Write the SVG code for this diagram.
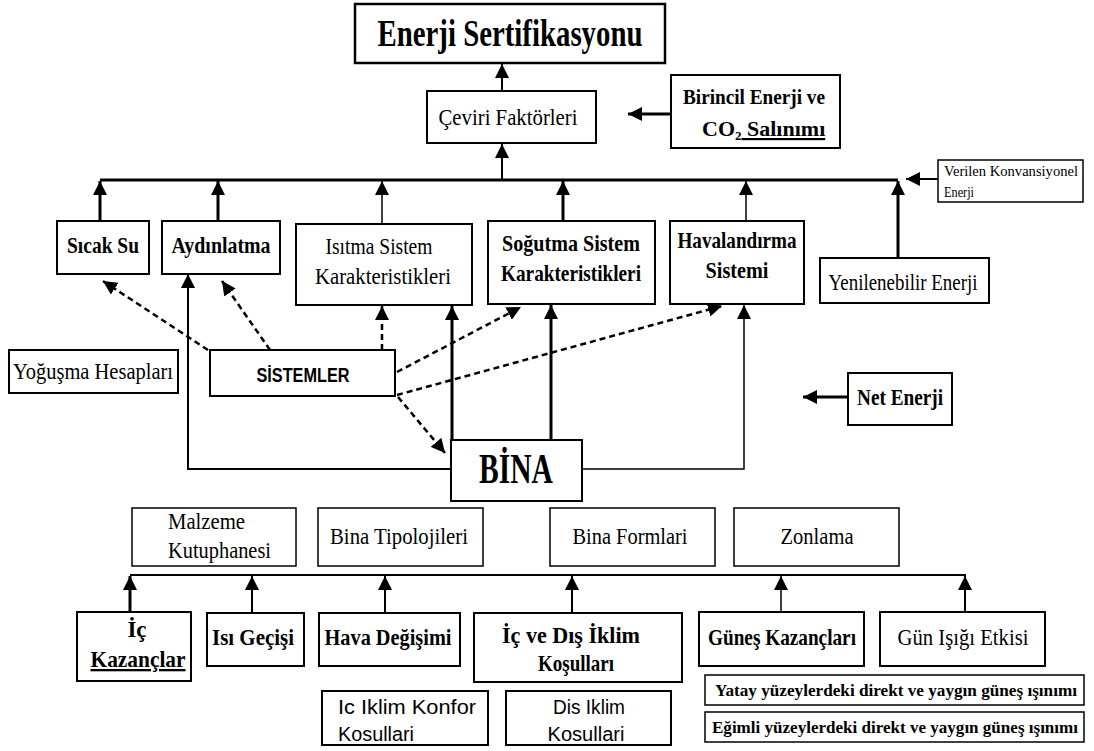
<svg xmlns="http://www.w3.org/2000/svg" width="1094" height="751" viewBox="0 0 1094 751">
<defs>
<marker id="ah" markerUnits="userSpaceOnUse" markerWidth="14" markerHeight="14" viewBox="0 0 12 12" refX="12" refY="6" orient="auto">
<path d="M0,0 L12,6 L0,12 z" fill="#000"/>
</marker>
</defs>
<style>
.box{fill:#fff;stroke:#000;stroke-width:2}
.s{font-family:"Liberation Serif","Times New Roman",serif;font-size:23px;fill:#000}
.b{font-weight:bold}
.ss{font-family:"Liberation Sans",Arial,sans-serif;fill:#000}
.c{text-anchor:middle}
.ln{fill:none;stroke:#000;stroke-width:2}
.th{stroke-width:3}
.tn{stroke-width:1.5}
.d{fill:none;stroke:#000;stroke-width:2.5;stroke-dasharray:6 4}
</style>
<rect width="1094" height="751" fill="#fff"/>

<g id="connectors">
<path class="ln" d="M502,91 V64" marker-end="url(#ah)"/>
<path class="ln" d="M502,180 V144" marker-end="url(#ah)"/>
<path class="ln th" d="M671,114 H628" marker-end="url(#ah)"/>
<path class="ln th" d="M100,180 H898"/>
<path class="ln th" d="M100,221 V181" marker-end="url(#ah)"/>
<path class="ln th" d="M218,221 V181" marker-end="url(#ah)"/>
<path class="ln tn" d="M382,224 V181" marker-end="url(#ah)"/>
<path class="ln th" d="M563,221 V181" marker-end="url(#ah)"/>
<path class="ln tn" d="M746,221 V181" marker-end="url(#ah)"/>
<path class="ln th" d="M898,258 V181" marker-end="url(#ah)"/>
<path class="ln" d="M938,179 H906" marker-end="url(#ah)"/>
<path class="ln" d="M451,469 H188 V274" marker-end="url(#ah)"/>
<path class="ln tn" d="M582,469 H744 V305" marker-end="url(#ah)"/>
<path class="ln th" d="M452,440 V306" marker-end="url(#ah)"/>
<path class="ln th" d="M551,440 V305" marker-end="url(#ah)"/>
<path class="ln th" d="M848,397 H803" marker-end="url(#ah)"/>
<path class="d" d="M208,350 L103,281" marker-end="url(#ah)"/>
<path class="d" d="M270,350 L222,281" marker-end="url(#ah)"/>
<path class="d" d="M382,350 V306" marker-end="url(#ah)"/>
<path class="d" d="M397,372 L521,307" marker-end="url(#ah)"/>
<path class="d" d="M397,395 L722,306" marker-end="url(#ah)"/>
<path class="d" d="M398,397 L445,453" marker-end="url(#ah)"/>
<path class="ln" d="M130,575 H966"/>
<path class="ln th" d="M130,612 V576" marker-end="url(#ah)"/>
<path class="ln" d="M252,613 V576" marker-end="url(#ah)"/>
<path class="ln" d="M385,613 V576" marker-end="url(#ah)"/>
<path class="ln" d="M572,613 V576" marker-end="url(#ah)"/>
<path class="ln tn" d="M781,612 V576" marker-end="url(#ah)"/>
<path class="ln" d="M965,612 V576" marker-end="url(#ah)"/>
</g>

<g id="n-enerji-sertifikasyonu">
<rect class="box" x="355" y="4" width="310" height="59" style="stroke-width:2.5"/>
<text class="s b c" x="510" y="46" style="font-size:37px" textLength="265" lengthAdjust="spacingAndGlyphs">Enerji Sertifikasyonu</text>
</g>
<g id="n-ceviri">
<rect class="box" x="427" y="91" width="169" height="52"/>
<text class="s c" x="508" y="125" textLength="139" lengthAdjust="spacingAndGlyphs">Çeviri Faktörleri</text>
</g>
<g id="n-birincil">
<rect class="box" x="671" y="75" width="169" height="73"/>
<text class="s b c" x="754" y="104" style="font-size:22px" textLength="142" lengthAdjust="spacingAndGlyphs">Birincil Enerji ve</text>
<text class="s b" x="702" y="136" style="font-size:22px">CO<tspan style="font-size:13px" dy="4">2</tspan><tspan dy="-4" style="text-decoration:underline"> Salınımı</tspan></text>
</g>
<g id="n-verilen">
<rect class="box" x="938" y="160" width="145" height="42" style="stroke-width:1.5"/>
<text class="s" x="944" y="176" style="font-size:15px" textLength="134" lengthAdjust="spacingAndGlyphs">Verilen Konvansiyonel</text>
<text class="s" x="944" y="197" style="font-size:15px" textLength="30" lengthAdjust="spacingAndGlyphs">Enerji</text>
</g>
<g id="n-sicak-su">
<rect class="box" x="57" y="221" width="92" height="53"/>
<text class="s b c" x="103" y="253" style="font-size:24px" textLength="72" lengthAdjust="spacingAndGlyphs">Sıcak Su</text>
</g>
<g id="n-aydinlatma">
<rect class="box" x="162" y="221" width="118" height="53"/>
<text class="s b c" x="221" y="253" style="font-size:24px" textLength="99" lengthAdjust="spacingAndGlyphs">Aydınlatma</text>
</g>
<g id="n-isitma">
<rect class="box" x="296" y="224" width="176" height="81"/>
<text class="s c" x="379" y="254" textLength="107" lengthAdjust="spacingAndGlyphs">Isıtma Sistem</text>
<text class="s c" x="383" y="284" textLength="136" lengthAdjust="spacingAndGlyphs">Karakteristikleri</text>
</g>
<g id="n-sogutma">
<rect class="box" x="488" y="221" width="167" height="83"/>
<text class="s b c" x="571" y="251" textLength="138" lengthAdjust="spacingAndGlyphs">Soğutma Sistem</text>
<text class="s b c" x="571" y="281" textLength="140" lengthAdjust="spacingAndGlyphs">Karakteristikleri</text>
</g>
<g id="n-havalandirma">
<rect class="box" x="670" y="221" width="134" height="83"/>
<text class="s b c" x="737" y="248" textLength="119" lengthAdjust="spacingAndGlyphs">Havalandırma</text>
<text class="s b c" x="737" y="278" textLength="63" lengthAdjust="spacingAndGlyphs">Sistemi</text>
</g>
<g id="n-yenilenebilir">
<rect class="box" x="820" y="258" width="169" height="45"/>
<text class="s c" x="903" y="290" textLength="149" lengthAdjust="spacingAndGlyphs">Yenilenebilir Enerji</text>
</g>
<g id="n-yogusma">
<rect class="box" x="9" y="350" width="169" height="43"/>
<text class="s c" x="93" y="379" textLength="160" lengthAdjust="spacingAndGlyphs">Yoğuşma Hesapları</text>
</g>
<g id="n-sistemler">
<rect class="box" x="210" y="350" width="185" height="46"/>
<text class="ss b c" x="303" y="382" style="font-size:20px" textLength="93" lengthAdjust="spacingAndGlyphs">SİSTEMLER</text>
</g>
<g id="n-net-enerji">
<rect class="box" x="848" y="373" width="104" height="52"/>
<text class="s b c" x="900" y="405" textLength="86" lengthAdjust="spacingAndGlyphs">Net Enerji</text>
</g>
<g id="n-bina">
<rect class="box" x="451" y="440" width="131" height="61"/>
<text class="s b c" x="516" y="483" style="font-size:42px" textLength="74" lengthAdjust="spacingAndGlyphs">BİNA</text>
</g>
<g id="n-malzeme">
<rect class="box" x="132" y="508" width="164" height="58" style="stroke-width:1.5"/>
<text class="s" x="168" y="529" textLength="77" lengthAdjust="spacingAndGlyphs">Malzeme</text>
<text class="s" x="168" y="558" textLength="103" lengthAdjust="spacingAndGlyphs">Kutuphanesi</text>
</g>
<g id="n-tipolojileri">
<rect class="box" x="318" y="508" width="165" height="58" style="stroke-width:1.5"/>
<text class="s c" x="399" y="544" textLength="138" lengthAdjust="spacingAndGlyphs">Bina Tipolojileri</text>
</g>
<g id="n-formlari">
<rect class="box" x="550" y="508" width="165" height="58" style="stroke-width:1.5"/>
<text class="s c" x="630" y="544" textLength="115" lengthAdjust="spacingAndGlyphs">Bina Formlari</text>
</g>
<g id="n-zonlama">
<rect class="box" x="734" y="508" width="165" height="58" style="stroke-width:1.5"/>
<text class="s c" x="817" y="544" textLength="73" lengthAdjust="spacingAndGlyphs">Zonlama</text>
</g>
<g id="n-ic-kazanclar">
<rect class="box" x="77" y="612" width="114" height="69"/>
<text class="s b c" x="137" y="637">İç</text>
<text class="s b c" x="138" y="667" style="text-decoration:underline" textLength="95" lengthAdjust="spacingAndGlyphs">Kazançlar</text>
</g>
<g id="n-isi-gecisi">
<rect class="box" x="207" y="613" width="97" height="53"/>
<text class="s b c" x="253" y="645" textLength="82" lengthAdjust="spacingAndGlyphs">Isı Geçişi</text>
</g>
<g id="n-hava-degisimi">
<rect class="box" x="319" y="613" width="141" height="53"/>
<text class="s b c" x="388" y="645" textLength="127" lengthAdjust="spacingAndGlyphs">Hava Değişimi</text>
</g>
<g id="n-ic-dis-iklim">
<rect class="box" x="474" y="613" width="208" height="69"/>
<text class="s b c" x="571" y="643" textLength="138" lengthAdjust="spacingAndGlyphs">İç ve Dış İklim</text>
<text class="s b c" x="576" y="671" textLength="76" lengthAdjust="spacingAndGlyphs">Koşulları</text>
</g>
<g id="n-gunes">
<rect class="box" x="699" y="612" width="165" height="54"/>
<text class="s b c" x="782" y="645" textLength="148" lengthAdjust="spacingAndGlyphs">Güneş Kazançları</text>
</g>
<g id="n-gun-isigi">
<rect class="box" x="880" y="612" width="165" height="54"/>
<text class="s c" x="963" y="645" textLength="131" lengthAdjust="spacingAndGlyphs">Gün Işığı Etkisi</text>
</g>
<g id="n-ic-iklim-konfor">
<rect class="box" x="322" y="691" width="166" height="54"/>
<text class="ss" x="338" y="714" style="font-size:20px" textLength="138" lengthAdjust="spacingAndGlyphs">Ic Iklim Konfor</text>
<text class="ss" x="338" y="741" style="font-size:20px" textLength="76" lengthAdjust="spacingAndGlyphs">Kosullari</text>
</g>
<g id="n-dis-iklim">
<rect class="box" x="506" y="691" width="165" height="54"/>
<text class="ss c" x="589" y="714" style="font-size:20px" textLength="72" lengthAdjust="spacingAndGlyphs">Dis Iklim</text>
<text class="ss c" x="586" y="741" style="font-size:20px" textLength="77" lengthAdjust="spacingAndGlyphs">Kosullari</text>
</g>
<g id="n-yatay">
<rect class="box" x="705" y="675" width="379" height="30" style="stroke-width:1.5"/>
<text class="s b" x="715" y="696" style="font-size:17px" textLength="362" lengthAdjust="spacingAndGlyphs">Yatay yüzeylerdeki direkt ve yaygın güneş ışınımı</text>
</g>
<g id="n-egimli">
<rect class="box" x="705" y="712" width="379" height="30" style="stroke-width:1.5"/>
<text class="s b" x="712" y="733" style="font-size:17px" textLength="366" lengthAdjust="spacingAndGlyphs">Eğimli yüzeylerdeki direkt ve yaygın güneş ışınımı</text>
</g>
</svg>
